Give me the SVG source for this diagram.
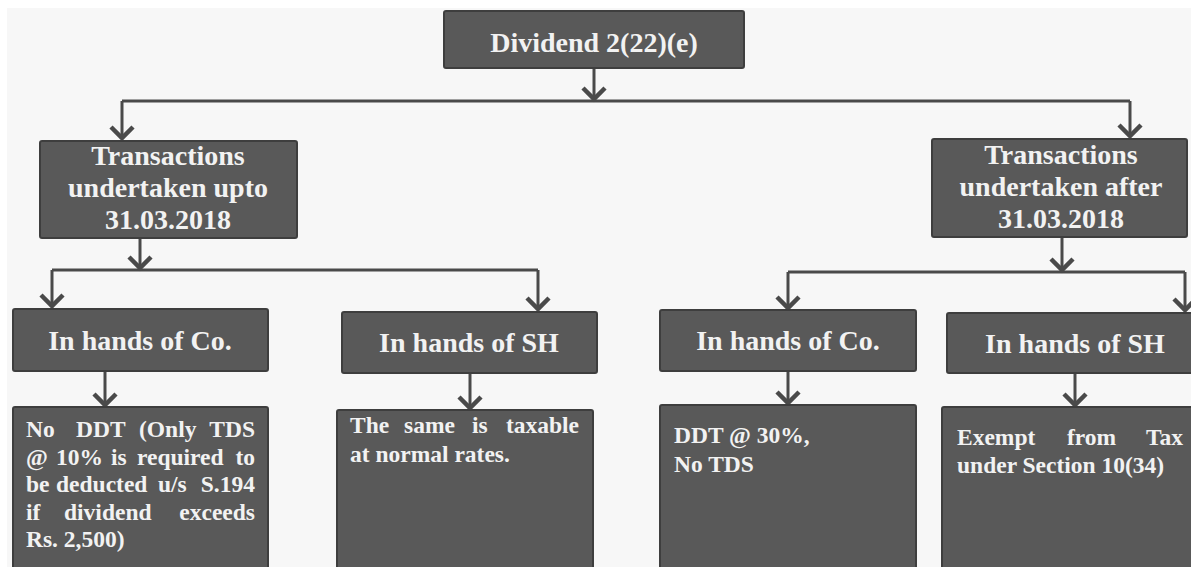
<svg xmlns="http://www.w3.org/2000/svg" width="1191" height="567" viewBox="0 0 1191 567">
<style>
.box{fill:#595959;stroke:#3e3e3e;stroke-width:2}
.t{font-family:"Liberation Serif",serif;font-weight:bold;fill:#f2f2f2;text-anchor:middle;font-size:28px}
.d{font-family:"Liberation Serif",serif;font-weight:bold;fill:#f2f2f2;font-size:23.5px}
.e{text-anchor:end}
.c{fill:none;stroke:#4a4a4a;stroke-width:3}
</style>
<defs>
<marker id="ah" markerUnits="userSpaceOnUse" markerWidth="30" markerHeight="30" viewBox="-15 -15 30 30" refX="0" refY="0" orient="auto">
<path d="M-12,-11 L-1,0 L-12,11" fill="none" stroke="#4a4a4a" stroke-width="4.5" stroke-linejoin="miter"/>
</marker>
</defs>
<rect width="1191" height="567" fill="#ffffff"/>
<rect x="7" y="8" width="1184" height="559" fill="#f7f7f7"/>
<g id="connectors">
<path class="c" d="M594,68 V100" marker-end="url(#ah)"/>
<path class="c" d="M122,101 H1130"/>
<path class="c" d="M122,101 V139" marker-end="url(#ah)"/>
<path class="c" d="M1130,101 V137" marker-end="url(#ah)"/>
<path class="c" d="M140,238 V269" marker-end="url(#ah)"/>
<path class="c" d="M52,270 H538"/>
<path class="c" d="M52,270 V307" marker-end="url(#ah)"/>
<path class="c" d="M538,270 V310" marker-end="url(#ah)"/>
<path class="c" d="M1062,237 V271" marker-end="url(#ah)"/>
<path class="c" d="M788,272 H1185"/>
<path class="c" d="M788,272 V309" marker-end="url(#ah)"/>
<path class="c" d="M1185,272 V311" marker-end="url(#ah)"/>
<path class="c" d="M105,371 V406" marker-end="url(#ah)"/>
<path class="c" d="M470,373 V409" marker-end="url(#ah)"/>
<path class="c" d="M788,371 V404" marker-end="url(#ah)"/>
<path class="c" d="M1075,373 V406" marker-end="url(#ah)"/>
</g>
<g id="dividend">
<rect class="box" x="444" y="11" width="300" height="57" rx="2"/>
<text class="t" x="594" y="52">Dividend 2(22)(e)</text>
</g>
<g id="upto">
<rect class="box" x="40" y="141" width="257" height="97" rx="2"/>
<text class="t" x="168" y="165">Transactions</text>
<text class="t" x="168" y="197">undertaken upto</text>
<text class="t" x="168" y="229">31.03.2018</text>
</g>
<g id="after">
<rect class="box" x="932" y="139" width="255" height="98" rx="2"/>
<text class="t" x="1061" y="164">Transactions</text>
<text class="t" x="1061" y="196">undertaken after</text>
<text class="t" x="1061" y="228">31.03.2018</text>
</g>
<g id="co1">
<rect class="box" x="13" y="309" width="255" height="62" rx="2"/>
<text class="t" x="140" y="350">In hands of Co.</text>
</g>
<g id="sh1">
<rect class="box" x="342" y="312" width="255" height="61" rx="2"/>
<text class="t" x="469" y="352">In hands of SH</text>
</g>
<g id="co2">
<rect class="box" x="660" y="310" width="256" height="61" rx="2"/>
<text class="t" x="788" y="350">In hands of Co.</text>
</g>
<g id="sh2">
<rect class="box" x="947" y="313" width="250" height="60" rx="2"/>
<text class="t" x="1075" y="353">In hands of SH</text>
</g>
<g id="d1">
<rect class="box" x="13" y="407" width="255" height="170" rx="2"/>
<text class="d" y="437"><tspan x="26">No</tspan><tspan x="76">DDT</tspan><tspan x="139">(Only</tspan></text>
<text class="d e" x="255" y="437">TDS</text>
<text class="d" y="465"><tspan x="26">@</tspan><tspan x="56">10%</tspan><tspan x="111">is</tspan><tspan x="137">required</tspan></text>
<text class="d e" x="255" y="465">to</text>
<text class="d" y="492"><tspan x="26">be</tspan><tspan x="56">deducted</tspan><tspan x="158">u/s</tspan></text>
<text class="d e" x="255" y="492">S.194</text>
<text class="d" y="520"><tspan x="26">if</tspan><tspan x="64">dividend</tspan></text>
<text class="d e" x="255" y="520">exceeds</text>
<text class="d" x="26" y="547">Rs. 2,500)</text>
</g>
<g id="d2">
<rect class="box" x="337" y="410" width="256" height="167" rx="2"/>
<text class="d" y="433"><tspan x="350">The</tspan><tspan x="404">same</tspan><tspan x="472">is</tspan></text>
<text class="d e" x="579" y="433">taxable</text>
<text class="d" x="350" y="462">at normal rates.</text>
</g>
<g id="d3">
<rect class="box" x="660" y="405" width="256" height="172" rx="2"/>
<text class="d" x="674" y="443">DDT @ 30%,</text>
<text class="d" x="674" y="472">No TDS</text>
</g>
<g id="d4">
<rect class="box" x="942" y="407" width="260" height="170" rx="2"/>
<text class="d" y="445"><tspan x="957">Exempt</tspan><tspan x="1067">from</tspan></text>
<text class="d e" x="1183" y="445">Tax</text>
<text class="d" x="957" y="473">under Section 10(34)</text>
</g>
</svg>
